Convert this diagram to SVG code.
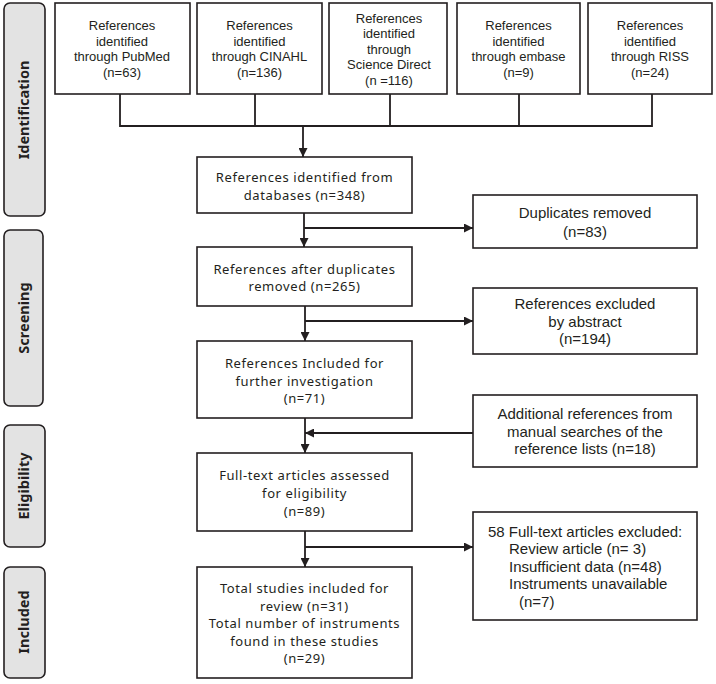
<svg xmlns="http://www.w3.org/2000/svg" width="716" height="684" viewBox="0 0 716 684">
<defs>
<style>
.bg{fill:#fff}
.box{fill:#fff;stroke:#231f20;stroke-width:1.6}
.side{fill:#e3e3e3;stroke:#231f20;stroke-width:1.6}
.ln{fill:none;stroke:#231f20;stroke-width:1.8}
.t13{font-family:"Liberation Sans",Arial,sans-serif;font-size:13px;fill:#231f20;text-anchor:middle}
.t15{font-family:"Liberation Sans",Arial,sans-serif;font-size:15px;fill:#231f20;text-anchor:middle}
.t15l{font-family:"Liberation Sans",Arial,sans-serif;font-size:15px;fill:#231f20}
.tm{font-family:"Noto Sans",sans-serif;font-size:13px;letter-spacing:0.6px;fill:#231f20;text-anchor:middle}
.ts{font-family:"Noto Sans",sans-serif;font-size:14.5px;font-weight:bold;fill:#231f20;text-anchor:middle}
</style>
<marker id="ah" viewBox="0 0 10 10" refX="10" refY="5" markerWidth="5" markerHeight="5" orient="auto" markerUnits="strokeWidth">
<path d="M0,0 L10,5 L0,10 z" fill="#231f20"/>
</marker>
</defs>
<rect class="bg" x="0" y="0" width="716" height="684"/>

<g id="side-identification">
<rect class="side" x="4" y="3" width="41" height="213" rx="6"/>
<text class="ts" transform="translate(29,110) rotate(-90)">Identification</text>
</g>
<g id="side-screening">
<rect class="side" x="4" y="230" width="39" height="176" rx="6"/>
<text class="ts" transform="translate(29,318) rotate(-90)">Screening</text>
</g>
<g id="side-eligibility">
<rect class="side" x="4" y="425" width="41" height="122" rx="6"/>
<text class="ts" transform="translate(29,486) rotate(-90)">Eligibility</text>
</g>
<g id="side-included">
<rect class="side" x="4" y="567" width="41" height="111" rx="6"/>
<text class="ts" transform="translate(29,622) rotate(-90)">Included</text>
</g>

<g id="pubmed">
<rect class="box" x="55" y="3" width="135" height="91"/>
<text class="t13" x="122" y="30">References</text>
<text class="t13" x="122" y="45.5">identified</text>
<text class="t13" x="122" y="61">through  PubMed</text>
<text class="t13" x="122" y="76.5">(n=63)</text>
</g>
<g id="cinahl">
<rect class="box" x="197" y="3" width="125" height="91"/>
<text class="t13" x="259.5" y="30">References</text>
<text class="t13" x="259.5" y="45.5">identified</text>
<text class="t13" x="259.5" y="61">through  CINAHL</text>
<text class="t13" x="259.5" y="76.5">(n=136)</text>
</g>
<g id="sciencedirect">
<rect class="box" x="329" y="3" width="118" height="91"/>
<text class="t13" x="389" y="22.5">References</text>
<text class="t13" x="389" y="38">identified</text>
<text class="t13" x="389" y="53.5">through</text>
<text class="t13" x="389" y="69">Science Direct</text>
<text class="t13" x="389" y="84.5">(n =116)</text>
</g>
<g id="embase">
<rect class="box" x="457" y="3" width="123" height="91"/>
<text class="t13" x="518.5" y="30">References</text>
<text class="t13" x="518.5" y="45.5">identified</text>
<text class="t13" x="518.5" y="61">through embase</text>
<text class="t13" x="518.5" y="76.5">(n=9)</text>
</g>
<g id="riss">
<rect class="box" x="588" y="3" width="124" height="91"/>
<text class="t13" x="650" y="30">References</text>
<text class="t13" x="650" y="45.5">identified</text>
<text class="t13" x="650" y="61">through RISS</text>
<text class="t13" x="650" y="76.5">(n=24)</text>
</g>

<g id="identified">
<rect class="box" x="197" y="157" width="215" height="56"/>
<text class="tm" x="304.5" y="182">References identified from</text>
<text class="tm" x="304.5" y="200">databases (n=348)</text>
</g>
<g id="duplicates">
<rect class="box" x="473" y="195" width="224" height="53"/>
<text class="t15" x="585" y="218">Duplicates removed</text>
<text class="t15" x="585" y="237">(n=83)</text>
</g>
<g id="afterdup">
<rect class="box" x="197" y="247" width="215" height="59"/>
<text class="tm" x="304.5" y="274">References after duplicates</text>
<text class="tm" x="304.5" y="291">removed (n=265)</text>
</g>
<g id="excluded-abstract">
<rect class="box" x="473" y="288" width="224" height="66"/>
<text class="t15" x="585" y="309">References excluded</text>
<text class="t15" x="585" y="327">by abstract</text>
<text class="t15" x="585" y="344">(n=194)</text>
</g>
<g id="included-further">
<rect class="box" x="197" y="341" width="215" height="77"/>
<text class="tm" x="304.5" y="368">References Included for</text>
<text class="tm" x="304.5" y="386">further investigation</text>
<text class="tm" x="304.5" y="403">(n=71)</text>
</g>
<g id="additional">
<rect class="box" x="473" y="395" width="224" height="72"/>
<text class="t15" x="585" y="419">Additional references from</text>
<text class="t15" x="585" y="437">manual  searches of the</text>
<text class="t15" x="585" y="454">reference lists (n=18)</text>
</g>
<g id="fulltext">
<rect class="box" x="197" y="453" width="215" height="78"/>
<text class="tm" x="304.5" y="480">Full-text articles assessed</text>
<text class="tm" x="304.5" y="498">for eligibility</text>
<text class="tm" x="304.5" y="516">(n=89)</text>
</g>
<g id="excluded-fulltext">
<rect class="box" x="473" y="512" width="224" height="108"/>
<text class="t15l" x="488" y="537">58 Full-text articles excluded:</text>
<text class="t15l" x="509" y="554">Review article (n= 3)</text>
<text class="t15l" x="509" y="572">Insufficient data (n=48)</text>
<text class="t15l" x="509" y="589">Instruments unavailable</text>
<text class="t15l" x="519" y="607">(n=7)</text>
</g>
<g id="total">
<rect class="box" x="197" y="567" width="215" height="111"/>
<text class="tm" x="304.5" y="593">Total studies included for</text>
<text class="tm" x="304.5" y="611">review (n=31)</text>
<text class="tm" x="304.5" y="628">Total number of instruments</text>
<text class="tm" x="304.5" y="646">found in these studies</text>
<text class="tm" x="304.5" y="663">(n=29)</text>
</g>

<g id="connectors">
<path class="ln" d="M120,94 V126 M255,94 V126 M390,94 V126 M519,94 V126 M652,94 V126 M119.1,126 H652.9"/>
<path class="ln" d="M303,126 V157" marker-end="url(#ah)"/>
<path class="ln" d="M304,213 V247" marker-end="url(#ah)"/>
<path class="ln" d="M304,228 H473" marker-end="url(#ah)"/>
<path class="ln" d="M305,306 V341" marker-end="url(#ah)"/>
<path class="ln" d="M305,321 H473" marker-end="url(#ah)"/>
<path class="ln" d="M305,418 V453" marker-end="url(#ah)"/>
<path class="ln" d="M473,433 H305" marker-end="url(#ah)"/>
<path class="ln" d="M305,531 V567" marker-end="url(#ah)"/>
<path class="ln" d="M305,547 H473" marker-end="url(#ah)"/>
</g>
</svg>
